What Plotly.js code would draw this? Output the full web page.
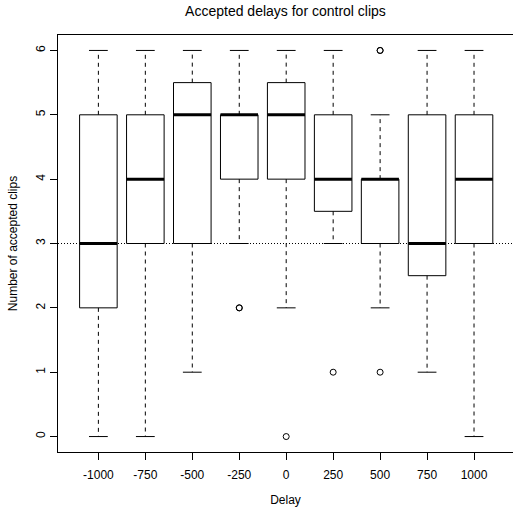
<!DOCTYPE html>
<html>
<head>
<meta charset="utf-8">
<script src="https://cdn.plot.ly/plotly-3.0.1.min.js"></script>
<style>html,body{margin:0;padding:0;background:#fff;}#chart{width:513px;height:510px;}</style>
</head>
<body>
<div id="chart"></div>
<script>
// Data
var delays = [-1000, -750, -500, -250, 0, 250, 500, 750, 1000];
var lowerWhisker = [0, 0, 1, 3, 2, 3, 2, 1, 0];
var q1 = [2, 3, 3, 4, 4, 3.5, 3, 2.5, 3];
var median = [3, 4, 5, 5, 5, 4, 4, 3, 4];
var q3 = [5, 5, 5.5, 5, 5.5, 5, 4, 5, 5];
var upperWhisker = [6, 6, 6, 6, 6, 6, 5, 6, 6];
var outlierDelay = [-250, -250, 0, 250, 500, 500, 500];
var outlierValue = [2, 2, 0, 1, 1, 6, 6];
var referenceLevel = 3;

var halfBox = 0.4, halfCap = 0.2;
var boxX = [], boxY = [], medX = [], medY = [], whX = [], whY = [], capX = [], capY = [];
for (var i = 0; i < delays.length; i++) {
  var c = i + 1;
  boxX.push(c - halfBox, c + halfBox, c + halfBox, c - halfBox, c - halfBox, null);
  boxY.push(q1[i], q1[i], q3[i], q3[i], q1[i], null);
  medX.push(c - halfBox, c + halfBox, null);
  medY.push(median[i], median[i], null);
  if (upperWhisker[i] > q3[i]) { whX.push(c, c, null); whY.push(q3[i], upperWhisker[i], null); }
  if (lowerWhisker[i] < q1[i]) { whX.push(c, c, null); whY.push(q1[i], lowerWhisker[i], null); }
  capX.push(c - halfCap, c + halfCap, null, c - halfCap, c + halfCap, null);
  capY.push(upperWhisker[i], upperWhisker[i], null, lowerWhisker[i], lowerWhisker[i], null);
}
var outX = outlierDelay.map(function (d) { return delays.indexOf(d) + 1; });

var traces = [
  {x: whX, y: whY, mode: 'lines', line: {color: '#000', width: 1, dash: '4px,4px'}, hoverinfo: 'skip'},
  {x: capX, y: capY, mode: 'lines', line: {color: '#000', width: 1}, hoverinfo: 'skip'},
  {x: boxX, y: boxY, mode: 'lines', line: {color: '#000', width: 1}, hoverinfo: 'skip'},
  {x: medX, y: medY, mode: 'lines', line: {color: '#000', width: 3}, hoverinfo: 'skip'},
  {x: outX, y: outlierValue, mode: 'markers', marker: {symbol: 'circle-open', size: 6, color: '#000', line: {width: 1, color: '#000'}}, hoverinfo: 'skip'}
];

var font = {family: 'Liberation Sans, Arial, Helvetica, sans-serif', color: '#000', size: 12};
var layout = {
  width: 513, height: 510,
  margin: {l: 58, r: 0, t: 35, b: 58},
  paper_bgcolor: '#fff', plot_bgcolor: '#fff',
  showlegend: false,
  font: font,
  title: {text: 'Accepted delays for control clips', font: {family: font.family, size: 14, color: '#000'},
          x: 0.5, xref: 'paper', y: 1 - 11 / 510, yref: 'container', yanchor: 'middle'},
  xaxis: {
    range: [0.14, 9.83], tickmode: 'array',
    tickvals: delays.map(function (d, i) { return i + 1; }),
    ticktext: delays.map(String),
    ticks: 'outside', ticklen: 7, tickwidth: 1, tickcolor: '#000',
    ticklabelstandoff: 5,
    showline: true, linecolor: '#000', linewidth: 1, mirror: true,
    showgrid: false, zeroline: false, fixedrange: true,
    tickfont: font,
    title: {text: 'Delay', font: font, standoff: 14}
  },
  yaxis: {
    range: [-0.24, 6.24], tickmode: 'array', tickvals: [0, 1, 2, 3, 4, 5, 6],
    ticks: 'outside', ticklen: 7, tickwidth: 1, tickcolor: '#000', tickangle: -90,
    showline: true, linecolor: '#000', linewidth: 1,
    showgrid: false, zeroline: false, fixedrange: true,
    tickfont: font,
    title: {text: 'Number of accepted clips', font: font, standoff: 14}
  },
  shapes: [{type: 'line', xref: 'paper', x0: 0, x1: 1, yref: 'y', y0: referenceLevel, y1: referenceLevel,
            line: {color: '#000', width: 1, dash: '1px,2px'}}]
};
Plotly.newPlot('chart', traces, layout, {displayModeBar: false, staticPlot: true});
</script>
</body>
</html>
